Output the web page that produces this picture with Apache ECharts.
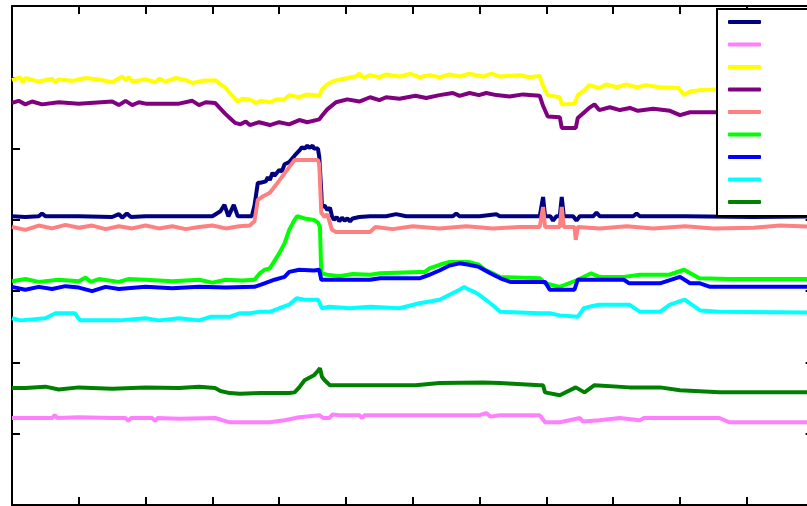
<!DOCTYPE html>
<html>
<head>
<meta charset="utf-8">
<script src="https://cdn.jsdelivr.net/npm/echarts@6/dist/echarts.min.js"></script>
<style>
  html, body { margin: 0; padding: 0; background: #fff; }
  #chart { width: 807px; height: 506px; }
</style>
</head>
<body>
<div id="chart"></div>
<script>
// Nine recorded channels, [sample, level] pairs
const seriesNames = ['ch1', 'ch2', 'ch3', 'ch4', 'ch5', 'ch6', 'ch7', 'ch8', 'ch9'];
const seriesColors = ['#000080', '#ff80ff', '#ffff00', '#800080', '#ff8080', '#00ff00', '#0000ff', '#00ffff', '#008000'];

const ch1 = [[0,405],[20,404],[40,405],[45,409],[50,405],[100,405],[150,404],[160,408],[165,403],[172,409],[178,404],[200,405],[250,405],[300,405],[312,412],[318,421],[324,405],[332,421],[338,405],[359,405],[363,420],[368,452],[372,452],[380,454],[383,460],[386,456],[390,466],[393,462],[400,470],[404,468],[408,478],[415,481],[423,490],[430,497],[434,502],[438,500],[442,504],[445,501],[450,504],[452,500],[458,500],[460,488],[463,440],[464,418],[468,420],[472,414],[476,417],[479,405],[482,400],[486,404],[490,398],[494,403],[498,399],[502,402],[506,398],[510,402],[520,404],[536,405],[560,405],[575,408],[590,405],[620,405],[660,405],[665,409],[670,405],[700,405],[725,408],[730,405],[790,405],[795,432],[798,405],[806,405],[810,399],[815,405],[820,405],[823,432],[826,405],[840,405],[845,399],[850,405],[870,405],[875,410],[880,405],[930,405],[935,409],[940,405],[1008,405],[1110,404],[1210,405]];

const ch2 = [[0,122],[60,122],[64,126],[68,122],[100,123],[150,122],[170,122],[174,118],[178,122],[210,122],[214,118],[218,122],[250,121],[304,122],[326,116],[386,116],[408,119],[430,123],[460,126],[466,122],[475,122],[480,127],[490,126],[520,126],[524,122],[528,126],[700,126],[710,129],[716,124],[730,126],[790,126],[798,116],[820,116],[835,119],[850,122],[855,117],[879,119],[910,122],[940,119],[946,122],[1059,122],[1074,116],[1210,116]];

const ch3 = [[0,596],[12,600],[16,593],[20,599],[40,594],[60,598],[64,593],[70,597],[90,595],[110,599],[130,597],[150,593],[165,601],[170,596],[175,600],[180,594],[200,597],[215,593],[220,598],[230,594],[245,599],[260,596],[270,592],[285,595],[304,596],[312,590],[319,586],[326,578],[334,570],[338,566],[345,570],[356,569],[365,564],[372,567],[386,565],[396,569],[408,569],[415,575],[430,572],[442,576],[460,574],[464,583],[472,590],[482,595],[497,598],[514,601],[520,605],[526,599],[536,603],[550,600],[560,604],[580,601],[596,605],[610,600],[625,603],[640,600],[655,604],[670,601],[684,605],[705,601],[718,605],[730,601],[760,603],[775,600],[790,602],[795,588],[802,575],[820,572],[823,562],[842,563],[847,575],[857,582],[864,589],[879,585],[890,590],[905,586],[920,590],[935,586],[950,589],[970,586],[998,585],[1006,575],[1015,580],[1030,582],[1055,583],[1110,585],[1210,585]];

const ch4 = [[0,564],[10,567],[20,562],[30,566],[45,562],[70,565],[100,563],[150,566],[160,561],[170,567],[180,561],[190,565],[200,563],[250,563],[270,567],[280,561],[290,565],[304,564],[312,556],[319,549],[326,543],[334,536],[342,534],[350,538],[356,533],[370,537],[386,533],[400,537],[415,534],[430,540],[442,537],[460,541],[464,546],[472,555],[485,565],[502,569],[520,566],[536,572],[550,568],[560,572],[580,570],[604,574],[620,571],[640,575],[660,578],[670,574],[685,578],[699,575],[710,578],[725,575],[745,573],[765,576],[790,574],[795,560],[802,545],[820,544],[823,529],[844,529],[847,543],[864,557],[872,562],[879,554],[895,558],[910,554],[925,557],[937,553],[960,556],[985,553],[1000,547],[1015,551],[1055,551],[1210,551]];

const ch5 = [[0,390],[20,386],[40,392],[60,388],[80,393],[100,389],[120,392],[140,387],[160,391],[180,388],[200,392],[220,388],[240,391],[260,387],[280,390],[300,392],[320,388],[340,391],[356,392],[363,398],[368,428],[374,432],[386,438],[400,455],[415,474],[423,484],[458,484],[460,478],[463,410],[468,404],[472,408],[479,386],[485,383],[536,383],[544,390],[570,387],[600,391],[640,388],[680,391],[720,388],[760,390],[790,390],[795,418],[798,390],[820,390],[823,418],[826,390],[842,390],[844,372],[847,390],[880,388],[920,391],[960,388],[1008,391],[1050,388],[1110,389],[1150,392],[1210,390]];

const ch6 = [[0,314],[20,317],[40,313],[70,316],[100,314],[110,319],[118,313],[130,317],[160,313],[175,317],[200,316],[240,314],[280,316],[300,312],[320,316],[345,315],[363,316],[371,325],[378,330],[386,332],[400,353],[408,367],[415,386],[423,400],[427,405],[438,402],[452,400],[458,396],[461,390],[463,325],[472,323],[490,321],[510,324],[536,323],[551,325],[610,327],[618,327],[625,332],[640,337],[655,341],[670,341],[684,341],[699,337],[708,330],[715,327],[730,320],[790,318],[798,311],[820,306],[847,316],[867,325],[879,320],[916,320],[940,323],[984,323],[1006,330],[1029,318],[1074,317],[1210,317]];

const ch7 = [[0,306],[20,302],[40,306],[60,303],[80,307],[100,305],[120,300],[140,306],[160,303],[200,306],[240,304],[280,306],[320,305],[363,306],[378,311],[393,316],[408,320],[415,327],[430,330],[452,329],[460,330],[463,316],[475,316],[536,316],[551,318],[610,318],[625,323],[640,329],[655,336],[670,339],[684,337],[699,334],[716,325],[731,318],[746,313],[790,313],[798,313],[805,302],[842,302],[847,316],[879,316],[916,316],[924,311],[970,311],[1000,320],[1015,311],[1030,311],[1045,306],[1210,306]];

const ch8 = [[0,262],[13,259],[50,262],[65,269],[94,269],[102,259],[161,259],[200,262],[220,259],[250,262],[280,259],[297,264],[326,264],[341,269],[356,269],[371,271],[386,271],[400,276],[415,281],[426,290],[438,288],[458,288],[464,276],[475,278],[506,276],[536,278],[580,276],[610,283],[640,288],[655,295],[670,302],[677,306],[684,302],[692,299],[699,295],[716,283],[731,271],[790,269],[805,269],[820,266],[847,264],[856,276],[864,278],[879,281],[924,281],[940,271],[970,271],[985,281],[1007,288],[1030,273],[1059,271],[1210,270]];

const ch9 = [[0,164],[20,164],[50,166],[70,162],[100,165],[150,163],[200,165],[250,164],[280,166],[304,164],[312,160],[326,157],[341,156],[372,157],[386,157],[415,157],[423,158],[430,165],[438,175],[452,182],[458,188],[461,192],[464,180],[468,175],[476,168],[490,168],[604,168],[640,171],[705,172],[730,171],[790,168],[795,168],[798,158],[820,154],[844,165],[857,158],[872,168],[924,165],[970,165],[1000,161],[1059,158],[1210,158]];

const seriesData = [ch1, ch2, ch3, ch4, ch5, ch6, ch7, ch8, ch9];

const chart = echarts.init(document.getElementById('chart'), null, { renderer: 'canvas' });

const frameAxis = {
  axisLine: { show: true, onZero: false, lineStyle: { color: '#000', width: 2 } },
  axisTick: { show: true, inside: true, length: 8, lineStyle: { color: '#000', width: 2 } },
  axisLabel: { show: false },
  splitLine: { show: false }
};

const xBase = { type: 'value', min: 0, max: 1200, interval: 100 };
const yBase = { type: 'value', min: 0, max: 700, interval: 100 };

chart.setOption({
  animation: false,
  backgroundColor: '#fff',
  // the plot frame deliberately runs past the right edge of the canvas
  grid: { left: 12, top: 6, width: 801.6, height: 499, containLabel: false, outerBoundsMode: 'none' },
  xAxis: [
    Object.assign({}, xBase, frameAxis, { position: 'bottom' }),
    Object.assign({}, xBase, frameAxis, { position: 'top' })
  ],
  yAxis: [
    Object.assign({}, yBase, frameAxis, { position: 'left' }),
    Object.assign({}, yBase, frameAxis, { position: 'right' })
  ],
  // legend panel: white fill plus an open frame (left, top, bottom) that runs off the right edge
  graphic: [
    {
      type: 'rect',
      x: 717,
      y: 9,
      z: 5,
      shape: { x: 0, y: 0, width: 240, height: 207 },
      style: { fill: '#fff' }
    },
    {
      type: 'polyline',
      x: 0,
      y: 0,
      z: 6,
      shape: { points: [[957, 9], [717, 9], [717, 216], [957, 216]] },
      style: { fill: null, stroke: '#000', lineWidth: 2 }
    }
  ],
  legend: {
    orient: 'vertical',
    left: 717,
    top: 8,
    z: 10,
    align: 'left',
    padding: [6, 0, 6, 11],
    itemGap: 6.5,
    itemWidth: 33,
    itemHeight: 4,
    icon: 'roundRect',
    borderWidth: 0,
    // channel names sit beyond the right edge of the canvas
    textStyle: { fontSize: 12, lineHeight: 16, color: '#000', padding: [0, 0, 0, 90] },
    data: seriesNames
  },
  series: seriesNames.map((name, i) => ({
    name: name,
    type: 'line',
    data: seriesData[i],
    showSymbol: false,
    symbol: 'none',
    clip: true,
    color: seriesColors[i],
    lineStyle: { color: seriesColors[i], width: 4 }
  }))
});
</script>
</body>
</html>
